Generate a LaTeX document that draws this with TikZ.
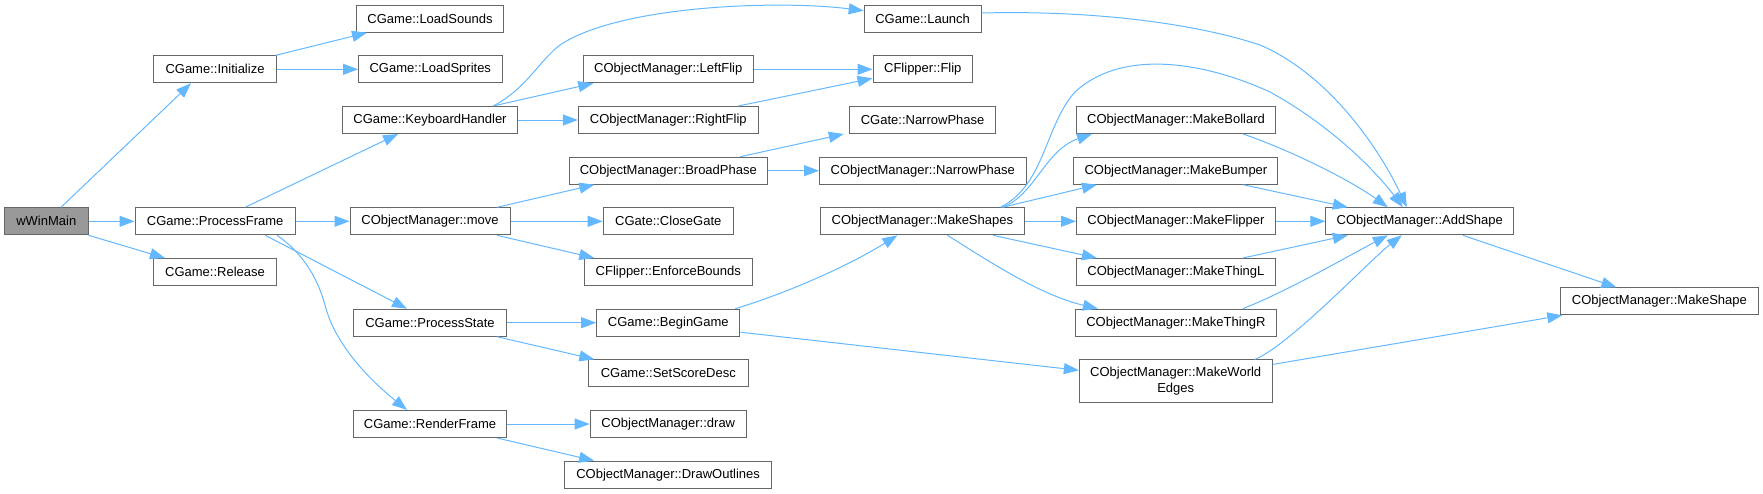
\documentclass[tikz,border=0pt]{standalone}
\usepackage{fontspec}
\setmainfont{Liberation Sans}
\usetikzlibrary{arrows.meta}
\definecolor{edgeblue}{HTML}{63B8FF}
\definecolor{bordergray}{HTML}{666666}
\definecolor{rootgray}{HTML}{999999}
\tikzset{
  fn/.style={draw=bordergray, fill=white, line width=1pt, minimum height=27pt, inner sep=0pt,
    font=\fontsize{13}{15.5}\selectfont, text=black},
  rootfn/.style={fn, fill=rootgray},
  ed/.style={draw=edgeblue, line width=1pt, -{Triangle[length=15pt,width=11pt]}}
}
\begin{document}
\begin{tikzpicture}[x=1pt,y=-1pt]
\useasboundingbox (0,0) rectangle (1763,493);
% column 0
\node[rootfn, minimum width=83.4pt] (wWinMain) at (46.3,221.3) {wWinMain};
% column 1
\node[fn, minimum width=122.5pt] (Init) at (215,69.3) {CGame::Initialize};
\node[fn, minimum width=160.4pt] (PFrame) at (215.2,221.3) {CGame::ProcessFrame};
\node[fn, minimum width=122.5pt] (Release) at (215,272) {CGame::Release};
% column 2
\node[fn, minimum width=146.5pt] (LSounds) at (430,18.7) {CGame::LoadSounds};
\node[fn, minimum width=143.4pt] (LSprites) at (430.3,69.3) {CGame::LoadSprites};
\node[fn, minimum width=175pt] (KH) at (430,120) {CGame::KeyboardHandler};
\node[fn, minimum width=160pt] (Move) at (430,221.3) {CObjectManager::move};
\node[fn, minimum width=153.8pt] (PState) at (430,322.7) {CGame::ProcessState};
\node[fn, minimum width=153.8pt] (RFrame) at (430,424) {CGame::RenderFrame};
% column 3
\node[fn, minimum width=170.6pt] (LFlip) at (668.3,69.3) {CObjectManager::LeftFlip};
\node[fn, minimum width=179.8pt] (RFlip) at (668.3,120) {CObjectManager::RightFlip};
\node[fn, minimum width=198.2pt] (Broad) at (668.3,170.7) {CObjectManager::BroadPhase};
\node[fn, minimum width=130.2pt] (Close) at (668.3,221.3) {CGate::CloseGate};
\node[fn, minimum width=167.5pt] (Enforce) at (668.3,272) {CFlipper::EnforceBounds};
\node[fn, minimum width=143.2pt] (Begin) at (668.3,322.7) {CGame::BeginGame};
\node[fn, minimum width=160pt] (Score) at (668.3,373.3) {CGame::SetScoreDesc};
\node[fn, minimum width=156.2pt] (Draw) at (668.3,424) {CObjectManager::draw};
\node[fn, minimum width=207pt] (Outl) at (668.1,474.7) {CObjectManager::DrawOutlines};
% column 4
\node[fn, minimum width=116.8pt] (Launch) at (922.6,18.7) {CGame::Launch};
\node[fn, minimum width=99.5pt] (Flip) at (922.8,69.3) {CFlipper::Flip};
\node[fn, minimum width=146.6pt] (GNarrow) at (922.6,120) {CGate::NarrowPhase};
\node[fn, minimum width=206.5pt] (ONarrow) at (922.8,170.7) {CObjectManager::NarrowPhase};
\node[fn, minimum width=203.6pt] (Shapes) at (922.4,221.3) {CObjectManager::MakeShapes};
% column 5
\node[fn, minimum width=199pt] (Bollard) at (1176,120) {CObjectManager::MakeBollard};
\node[fn, minimum width=204pt] (Bumper) at (1175.9,170.7) {CObjectManager::MakeBumper};
\node[fn, minimum width=198.6pt] (MFlipper) at (1175.9,221.3) {CObjectManager::MakeFlipper};
\node[fn, minimum width=198.6pt] (ThingL) at (1175.9,272) {CObjectManager::MakeThingL};
\node[fn, minimum width=201.3pt] (ThingR) at (1175.9,322.7) {CObjectManager::MakeThingR};
\node[fn, minimum width=192.7pt, minimum height=42.7pt, align=center] (World) at (1175.7,381.3) {CObjectManager::MakeWorld\\Edges};
% column 6
\node[fn, minimum width=188pt] (Add) at (1419.8,221.3) {CObjectManager::AddShape};
% column 7
\node[fn, minimum width=197.2pt] (MShape) at (1659.4,301.3) {CObjectManager::MakeShape};

% edges
\draw[ed] ([xshift=14.7pt]wWinMain.north) -- ([xshift=-24pt]Init.south);
\draw[ed] (wWinMain.east) -- (PFrame.west);
\draw[ed] (wWinMain.south east) -- ([xshift=-50pt]Release.north);
\draw[ed] ([xshift=-1pt]Init.north east) -- ([xshift=-63pt]LSounds.south);
\draw[ed] (Init.east) -- (LSprites.west);
\draw[ed] ([xshift=30pt]PFrame.north) -- ([xshift=-32pt]KH.south);
\draw[ed] (PFrame.east) -- (Move.west);
\draw[ed] ([xshift=50pt]PFrame.south) -- ([xshift=-23pt]PState.north);
\draw[ed] ([xshift=62pt]PFrame.south) .. controls (305,255) and (318,280) .. (325,305)
   .. controls (335,345) and (370,380) .. ([xshift=-23pt]RFrame.north);
\draw[ed] ([xshift=63pt]KH.north) .. controls (525,90) and (540,60) .. (560,45)
   .. controls (620,5) and (780,0) .. ([yshift=8pt]Launch.west);
\draw[ed] ([xshift=63pt]KH.north) -- ([xshift=-75pt]LFlip.south);
\draw[ed] (KH.east) -- (RFlip.west);
\draw[ed] (LFlip.east) -- (Flip.west);
\draw[ed] ([xshift=70pt]RFlip.north) -- ([yshift=-9pt]Flip.west);
\draw[ed] ([xshift=67pt]Move.north) -- ([xshift=-74pt]Broad.south);
\draw[ed] (Move.east) -- (Close.west);
\draw[ed] ([xshift=67pt]Move.south) -- ([xshift=-74pt]Enforce.north);
\draw[ed] ([xshift=72pt]Broad.north) -- ([xshift=-5pt]GNarrow.south west);
\draw[ed] (Broad.east) -- (ONarrow.west);
\draw[ed] (PState.east) -- (Begin.west);
\draw[ed] ([xshift=67pt]PState.south) -- ([xshift=-74pt]Score.north);
\draw[ed] ([xshift=67pt]Begin.north) .. controls (790,292) and (850,265) .. ([xshift=-25pt]Shapes.south);
\draw[ed] ([yshift=-9.5pt]Begin.east) -- ([yshift=11pt]World.west);
\draw[ed] (RFrame.east) -- (Draw.west);
\draw[ed] ([xshift=67pt]RFrame.south) -- ([xshift=-74pt]Outl.north);
\draw[ed] ([yshift=5.7pt]Launch.east) .. controls (1100,10) and (1200,25) .. (1260,45)
   .. controls (1330,75) and (1380,150) .. ([xshift=-13pt]Add.north);
\draw[ed] ([xshift=78pt]Shapes.north) .. controls (1045,185) and (1045,125) .. (1075,92)
   .. controls (1120,50) and (1200,60) .. (1270,92)
   .. controls (1330,125) and (1375,170) .. ([xshift=-17pt]Add.north);
\draw[ed] ([xshift=80pt]Shapes.north) .. controls (1035,195) and (1045,150) .. ([xshift=-84pt]Bollard.south);
\draw[ed] ([xshift=80pt]Shapes.north) -- ([xshift=-79pt]Bumper.south);
\draw[ed] (Shapes.east) -- (MFlipper.west);
\draw[ed] ([xshift=70.6pt]Shapes.south) -- ([xshift=-79pt]ThingL.north);
\draw[ed] ([xshift=25pt]Shapes.south) .. controls (990,262) and (1040,295) .. ([xshift=-78pt]ThingR.north);
\draw[ed] ([xshift=67pt]Bollard.south) .. controls (1290,150) and (1350,180) .. ([xshift=-32pt]Add.north);
\draw[ed] ([xshift=67pt]Bumper.south) -- ([xshift=-72pt]Add.north);
\draw[ed] (MFlipper.east) -- (Add.west);
\draw[ed] ([xshift=67pt]ThingL.north) -- ([xshift=-72pt]Add.south);
\draw[ed] ([xshift=67pt]ThingR.north) .. controls (1290,290) and (1350,255) .. ([xshift=-32pt]Add.south);
\draw[ed] ([xshift=79pt]World.north) .. controls (1290,345) and (1370,260) .. ([xshift=-18pt]Add.south);
\draw[ed] ([yshift=-5pt]World.north east) -- ([xshift=2pt]MShape.south west);
\draw[ed] ([xshift=43pt]Add.south) -- ([xshift=-43pt]MShape.north);
\end{tikzpicture}
\end{document}
